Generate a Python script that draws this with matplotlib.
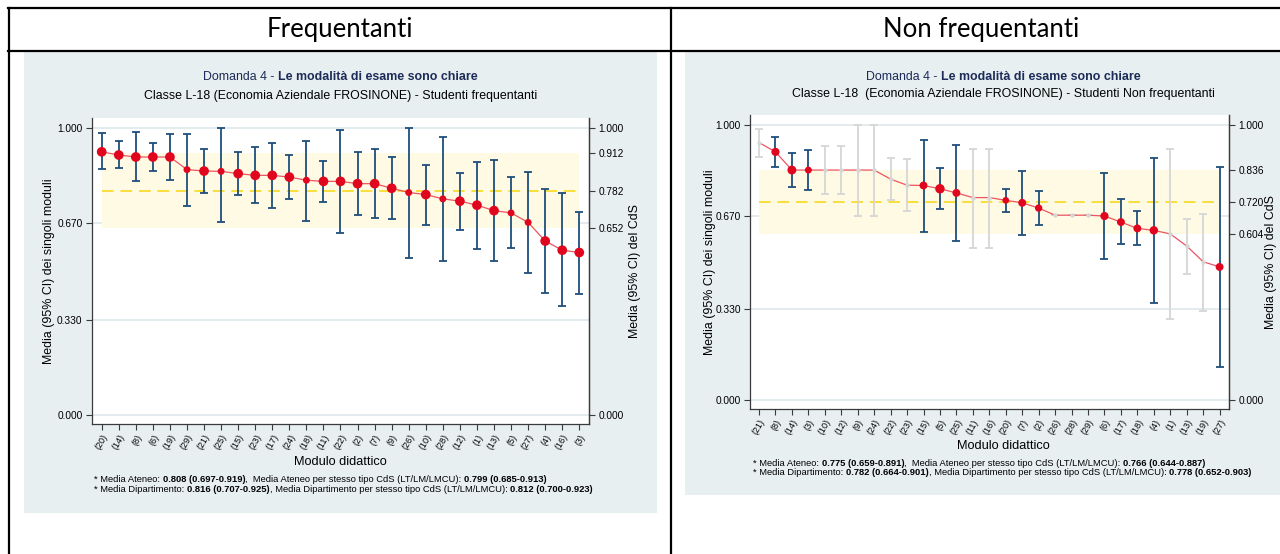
import matplotlib
matplotlib.use("Agg")
import matplotlib.pyplot as plt
from matplotlib.patches import Rectangle
from matplotlib.lines import Line2D
import numpy as np

# ---------------- data ----------------
freq_modules = ["(20)", "(14)", "(8)", "(6)", "(19)", "(29)", "(21)", "(25)", "(15)", "(23)",
                "(17)", "(24)", "(18)", "(11)", "(22)", "(2)", "(7)", "(9)", "(26)", "(10)",
                "(28)", "(12)", "(1)", "(13)", "(5)", "(27)", "(4)", "(16)", "(3)"]
freq_mean = [0.917, 0.906, 0.899, 0.899, 0.899, 0.855, 0.850, 0.849, 0.841, 0.835,
             0.835, 0.829, 0.818, 0.814, 0.814, 0.806, 0.806, 0.790, 0.775, 0.768,
             0.753, 0.745, 0.731, 0.712, 0.704, 0.671, 0.606, 0.574, 0.566]
freq_low = [0.856, 0.860, 0.814, 0.850, 0.818, 0.729, 0.774, 0.671, 0.768, 0.739,
            0.722, 0.754, 0.677, 0.743, 0.633, 0.698, 0.687, 0.683, 0.547, 0.661,
            0.537, 0.646, 0.579, 0.537, 0.581, 0.495, 0.426, 0.380, 0.423]
freq_high = [0.981, 0.955, 0.985, 0.947, 0.979, 0.979, 0.926, 1.000, 0.916, 0.933,
             0.949, 0.906, 0.956, 0.886, 0.993, 0.915, 0.926, 0.899, 1.000, 0.872,
             0.968, 0.844, 0.882, 0.889, 0.828, 0.848, 0.788, 0.772, 0.707]
freq_few = [False] * 29
freq_cds = (0.652, 0.782, 0.912)

nonfreq_modules = ["(21)", "(8)", "(14)", "(3)", "(10)", "(12)", "(9)", "(24)", "(22)", "(23)",
                   "(15)", "(5)", "(25)", "(11)", "(16)", "(20)", "(7)", "(2)", "(26)", "(28)",
                   "(29)", "(6)", "(17)", "(18)", "(4)", "(1)", "(13)", "(19)", "(27)"]
nonfreq_mean = [0.936, 0.902, 0.836, 0.836, 0.836, 0.836, 0.836, 0.836, 0.803, 0.781,
                0.780, 0.768, 0.753, 0.736, 0.736, 0.726, 0.717, 0.698, 0.672, 0.672,
                0.672, 0.669, 0.647, 0.624, 0.617, 0.604, 0.560, 0.503, 0.484]
nonfreq_low = [0.885, 0.847, 0.773, 0.764, 0.748, 0.748, 0.670, 0.670, 0.727, 0.687,
               0.612, 0.696, 0.579, 0.554, 0.554, 0.685, 0.600, 0.636, 0.672, 0.672,
               0.672, 0.513, 0.566, 0.562, 0.353, 0.295, 0.459, 0.325, 0.119]
nonfreq_high = [0.984, 0.956, 0.897, 0.909, 0.924, 0.924, 1.000, 1.000, 0.878, 0.875,
                0.945, 0.843, 0.926, 0.914, 0.914, 0.766, 0.834, 0.759, 0.672, 0.672,
                0.672, 0.827, 0.730, 0.687, 0.881, 0.912, 0.657, 0.676, 0.846]
nonfreq_few = [True, False, False, False, True, True, True, True, True, True,
               False, False, False, True, True, False, False, False, True, True,
               True, False, False, False, False, True, True, True, False]
nonfreq_cds = (0.604, 0.720, 0.836)

left_ticks = [0.000, 0.330, 0.670, 1.000]

freq_notes = [
    [("* Media Ateneo: ", "normal"), ("0.808 (0.697-0.919)", "bold"),
     (",  Media Ateneo per stesso tipo CdS (LT/LM/LMCU): ", "normal"), ("0.799 (0.685-0.913)", "bold")],
    [("* Media Dipartimento: ", "normal"), ("0.816 (0.707-0.925)", "bold"),
     (", Media Dipartimento per stesso tipo CdS (LT/LM/LMCU): ", "normal"), ("0.812 (0.700-0.923)", "bold")],
]
nonfreq_notes = [
    [("* Media Ateneo: ", "normal"), ("0.775 (0.659-0.891)", "bold"),
     (",  Media Ateneo per stesso tipo CdS (LT/LM/LMCU): ", "normal"), ("0.766 (0.644-0.887)", "bold")],
    [("* Media Dipartimento: ", "normal"), ("0.782 (0.664-0.901)", "bold"),
     (", Media Dipartimento per stesso tipo CdS (LT/LM/LMCU): ", "normal"), ("0.778 (0.652-0.903)", "bold")],
]

# ---------------- style ----------------
W, H = 1280, 554
SANS = "Liberation Sans"
PANEL = "#E7EFF1"
NAVY = "#1F4E79"
GREY = "#D6D6D6"
RED = "#E0061E"
LINE = "#EC5563"
BAND = "#FFFAE3"
GOLD = "#F9DE3C"
GRID = "#E0E9EE"
AXC = "#3A3A3A"
TITLE_C = "#1C2B57"

fig = plt.figure(figsize=(W / 100, H / 100), dpi=100)
renderer = fig.canvas.get_renderer()


def fx(x):
    return x / W


def fy(y):
    return 1 - y / H


def text_width(s, size, weight):
    t = fig.text(0, 0, "|" + s + "|", fontsize=size, fontweight=weight, family=SANS)
    w = t.get_window_extent(renderer).width
    t.remove()
    t = fig.text(0, 0, "||", fontsize=size, fontweight=weight, family=SANS)
    w0 = t.get_window_extent(renderer).width
    t.remove()
    return w - w0


def rich_text(x, y, parts, size, color="black", center=False):
    widths = [text_width(s, size, w) for s, w, *_ in parts]
    start = x - sum(widths) / 2 if center else x
    for (s, w, *c), wd in zip(parts, widths):
        fig.text(fx(start), fy(y), s, fontsize=size, fontweight=w, family=SANS,
                 color=c[0] if c else color, ha="left", va="baseline")
        start += wd


# table frame
for (x0, y0, x1, y1) in [(8, 8.3, W, 8.3), (8, 51.3, W, 51.3), (9.3, 7.5, 9.3, H), (671, 7.5, 671, H)]:
    fig.add_artist(Line2D([fx(x0), fx(x1)], [fy(y0), fy(y1)], color="black", lw=1.6))
fig.text(fx(340), fy(36.5), "Frequentanti", fontsize=18.5, family="Lato", ha="center", va="baseline")
fig.text(fx(981), fy(36.5), "Non frequentanti", fontsize=18.5, family="Lato", ha="center", va="baseline")


def chart(panel, axbox, first_x, last_x, modules, mean, low, high, few, cds, dot_sizes,
          center_x, title_y, sub_y, subtitle, xlab_y, ylab_x, rylab_x):
    px0, py0, px1, py1 = panel
    fig.add_artist(Rectangle((fx(px0), fy(py1)), fx(px1 - px0), (py1 - py0) / H,
                             facecolor=PANEL, edgecolor="none", zorder=0))
    ax0, ay0, ax1, ay1 = axbox
    ax = fig.add_axes([fx(ax0), fy(ay1), fx(ax1 - ax0), (ay1 - ay0) / H])
    n = len(mean)
    step = (last_x - first_x) / (n - 1)
    ax.set_xlim(-(first_x - ax0) / step, n - 1 + (ax1 - last_x) / step)
    ax.set_ylim(-0.032, 1.036)
    x = np.arange(n)
    mean = np.asarray(mean)
    low = np.asarray(low)
    high = np.asarray(high)
    few = np.asarray(few)

    for yv in left_ticks:
        ax.axhline(yv, color=GRID, lw=1.3, zorder=0.2)
    ax.fill_between([0, n - 1], cds[0], cds[2], color=BAND, lw=0, zorder=0.5)
    ax.plot([0, n - 1], [cds[1], cds[1]], color=GOLD, lw=1.4, dashes=(6, 3.5), zorder=1)

    for mask, col in [(few, GREY), (~few, NAVY)]:
        if mask.any():
            ax.errorbar(x[mask], mean[mask], yerr=[mean[mask] - low[mask], high[mask] - mean[mask]],
                        fmt="none", ecolor=col, elinewidth=1.3, capsize=3.0, capthick=1.3, zorder=2)
    ax.plot(x, mean, color=LINE, lw=0.9, zorder=3)
    sizes = np.asarray(dot_sizes, dtype=float)
    ax.scatter(x[~few], mean[~few], s=sizes[~few] ** 2, color=RED, lw=0, zorder=4)
    if few.any():
        ax.scatter(x[few], mean[few], s=3.2 ** 2, color=GREY, lw=0, zorder=4)

    ax.set_yticks(left_ticks)
    ax.set_yticklabels([f"{v:.3f}" for v in left_ticks], fontsize=7.3, family=SANS)
    ax.set_xticks(x)
    ax.set_xticklabels(modules, rotation=60, ha="right", va="top", rotation_mode="anchor",
                       fontsize=6.5, family=SANS)
    ax.tick_params(axis="both", direction="out", length=4, width=0.8, color=AXC, pad=2.5)
    ax.spines["top"].set_visible(False)
    for side in ("left", "bottom", "right"):
        ax.spines[side].set_color(AXC)
        ax.spines[side].set_linewidth(0.9)

    ax2 = ax.twinx()
    ax2.set_ylim(ax.get_ylim())
    rticks = [0.0, cds[0], cds[1], cds[2], 1.0]
    ax2.set_yticks(rticks)
    ax2.set_yticklabels([f"{v:.3f}" for v in rticks], fontsize=7.3, family=SANS)
    ax2.tick_params(axis="y", direction="out", length=4, width=0.8, color=AXC, pad=2.5)
    for side in ("left", "top", "bottom"):
        ax2.spines[side].set_visible(False)
    ax2.spines["right"].set_color(AXC)
    ax2.spines["right"].set_linewidth(0.9)

    rich_text(center_x, title_y, [("Domanda 4 - ", "normal", TITLE_C),
                                  ("Le modalità di esame sono chiare", "bold", TITLE_C)], 8.9, center=True)
    fig.text(fx(center_x), fy(sub_y), subtitle, fontsize=8.9, family=SANS, ha="center", va="baseline")
    fig.text(fx(center_x), fy(xlab_y), "Modulo didattico", fontsize=9.2, family=SANS,
             ha="center", va="center")
    yc = (ay0 + ay1) / 2
    fig.text(fx(ylab_x), fy(yc), "Media (95% CI) dei singoli moduli", fontsize=8.9, family=SANS,
             rotation=90, ha="center", va="center")
    fig.text(fx(rylab_x), fy(yc), "Media (95% CI) del CdS", fontsize=8.9, family=SANS,
             rotation=90, ha="center", va="center")
    return ax


chart((24, 52, 657, 512.7), (91.5, 117.7, 589.3, 424), 101.7, 579.3,
      freq_modules, freq_mean, freq_low, freq_high, freq_few, freq_cds,
      [7.0, 7.0, 7.0, 7.0, 7.0, 5.0, 7.0, 5.0, 7.0, 7.0,
       7.0, 7.0, 5.0, 7.0, 7.0, 7.0, 7.0, 7.0, 5.0, 7.0,
       5.0, 7.0, 7.0, 7.0, 5.0, 5.0, 7.0, 7.0, 7.0],
      340.5, 80, 99, "Classe L-18 (Economia Aziendale FROSINONE) - Studenti frequentanti",
      462, 49, 635)

chart((685, 52, W, 494.7), (750, 115, 1229.3, 409), 759, 1219.6,
      nonfreq_modules, nonfreq_mean, nonfreq_low, nonfreq_high, nonfreq_few, nonfreq_cds,
      [4.8, 5.9, 6.4, 5.0, 4.8, 4.8, 4.8, 4.8, 4.8, 4.8,
       5.7, 6.8, 5.7, 4.8, 4.8, 4.8, 5.7, 5.3, 4.8, 4.8,
       4.8, 5.9, 5.7, 5.7, 6.1, 4.8, 4.8, 4.8, 5.7],
      1003, 80, 97, "Classe L-18  (Economia Aziendale FROSINONE) - Studenti Non frequentanti",
      446, 710, 1271)

for parts, y in zip(freq_notes, (482.5, 492.5)):
    rich_text(94, y, parts, 6.75)
for parts, y in zip(nonfreq_notes, (465.5, 475)):
    rich_text(753, y, parts, 6.75)

fig.savefig("out.png", dpi=100)
